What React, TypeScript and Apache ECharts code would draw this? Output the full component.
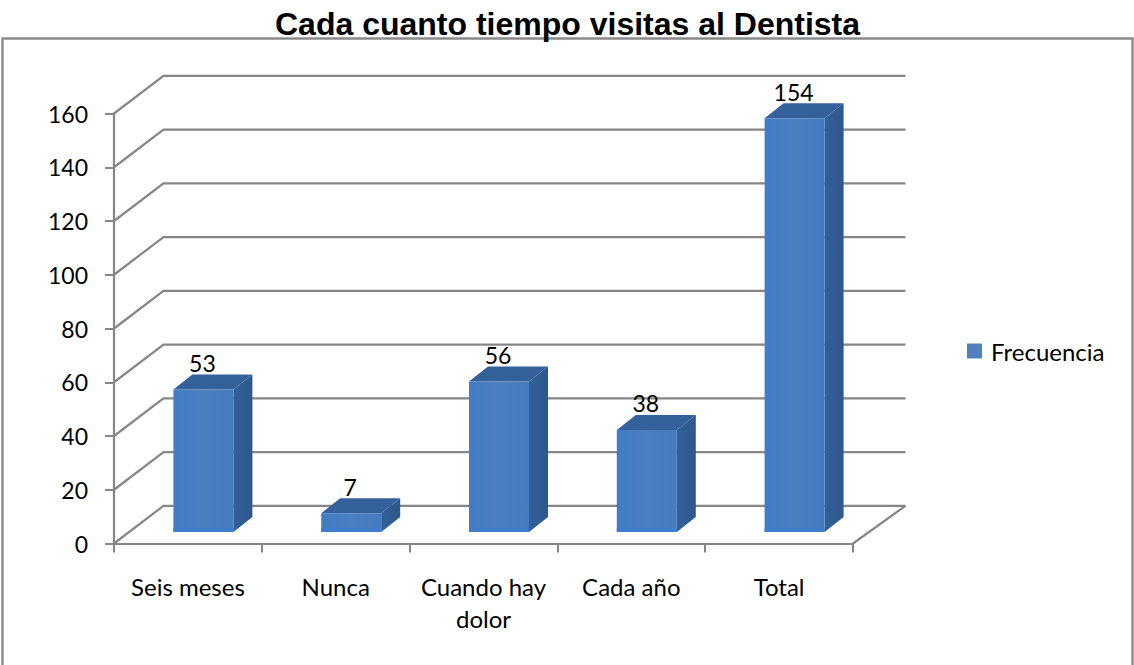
import React, { useEffect, useRef } from "react";
import * as echarts from "echarts";

const titleText = "Cada cuanto tiempo visitas al Dentista";
const categories = ["Seis meses", "Nunca", "Cuando hay\ndolor", "Cada año", "Total"];
const seriesName = "Frecuencia";
const values = [53, 7, 56, 38, 154];
const yTicks = [0, 20, 40, 60, 80, 100, 120, 140, 160];

const FONT = "Lato";
const GRID_COLOR = "#868686";

// Pseudo-3D projection offsets
const WALL_DX = 49.5;
const WALL_DY = 37.7;
const WALL_RIGHT_DX = 52.5;
const BAR_DX = 15.5;
const BAR_DY = 11.5;
const BAR_W = 60;
const BAR_DEPTH_X = 19;
const BAR_DEPTH_Y = 15;

function renderWall(params: any, api: any) {
  const v = api.value(1);
  const cs = params.coordSys;
  const y = api.coord([0, v])[1];
  const left = cs.x;
  const right = cs.x + cs.width;
  const style = { stroke: GRID_COLOR, lineWidth: 2.2, fill: "none" };
  const children: any[] = [
    {
      type: "polyline",
      shape: {
        points: [
          [left, y],
          [left + WALL_DX, y - WALL_DY],
          [right + WALL_RIGHT_DX, y - WALL_DY],
        ],
      },
      style,
    },
  ];
  if (v === 0) {
    children.push({
      type: "line",
      shape: { x1: right, y1: y, x2: right + WALL_RIGHT_DX, y2: y - WALL_DY },
      style,
    });
  }
  return { type: "group", children };
}

function renderBar(_params: any, api: any) {
  const idx = api.value(0);
  const v = api.value(1);
  const top = api.coord([idx, v]);
  const base = api.coord([idx, 0]);
  const x0 = top[0] + BAR_DX - BAR_W / 2;
  const x1 = x0 + BAR_W;
  const yt = top[1] - BAR_DY;
  const yb = base[1] - BAR_DY;
  const front = new echarts.graphic.LinearGradient(0, 0, 1, 0, [
    { offset: 0, color: "#437cc2" },
    { offset: 0.5, color: "#4a80c2" },
    { offset: 1, color: "#447cbf" },
  ]);
  const side = new echarts.graphic.LinearGradient(0, 0, 1, 0, [
    { offset: 0, color: "#31609a" },
    { offset: 1, color: "#2e588c" },
  ]);
  return {
    type: "group",
    children: [
      {
        type: "polygon",
        shape: {
          points: [
            [x1, yt],
            [x1 + BAR_DEPTH_X, yt - BAR_DEPTH_Y],
            [x1 + BAR_DEPTH_X, yb - BAR_DEPTH_Y],
            [x1, yb],
          ],
        },
        style: { fill: side },
      },
      {
        type: "polygon",
        shape: {
          points: [
            [x0, yt],
            [x0 + BAR_DEPTH_X, yt - BAR_DEPTH_Y],
            [x1 + BAR_DEPTH_X, yt - BAR_DEPTH_Y],
            [x1, yt],
          ],
        },
        style: { fill: "#34619b" },
      },
      {
        type: "rect",
        shape: { x: x0, y: yt, width: BAR_W, height: yb - yt },
        style: { fill: front },
      },
      {
        type: "rect",
        shape: { x: x0, y: yb - 4, width: BAR_W, height: 4 },
        style: { fill: "#3f7dcb" },
      },
      {
        type: "text",
        x: x0 + BAR_W / 2 - 1,
        y: yt - 26.5,
        style: {
          text: String(v),
          fontFamily: FONT,
          fontSize: 23,
          fill: "#000",
          align: "center",
          verticalAlign: "middle",
        },
      },
    ],
  };
}

export default function App() {
  const ref = useRef<HTMLDivElement>(null);
  useEffect(() => {
    document.body.style.margin = "0";
    const chart = echarts.init(ref.current!, null, { renderer: "svg" });
    chart.setOption({
      animation: false,
      backgroundColor: "#fff",
      title: {
        text: titleText,
        left: 562.5,
        top: 3,
        textAlign: "center",
        textStyle: { fontFamily: "Liberation Sans", fontWeight: "bold", fontSize: 32, color: "#000" },
      },
      graphic: [
        {
          type: "polyline",
          silent: true,
          shape: { points: [[2.5, 665], [2.5, 38.5], [1132.5, 38.5], [1132.5, 665]] },
          style: { stroke: "#8a8a8a", lineWidth: 2.4, fill: "none" },
        },
      ],
      legend: {
        data: [seriesName],
        left: 967,
        top: 339,
        icon: "rect",
        itemWidth: 15,
        itemHeight: 15,
        itemGap: 0,
        padding: 0,
        textStyle: { fontFamily: FONT, fontSize: 24, color: "#000", padding: [0, 0, 0, 4] },
      },
      grid: { left: 114, top: 113.5, width: 739, height: 430 },
      xAxis: {
        type: "category",
        data: categories,
        boundaryGap: true,
        axisLine: { lineStyle: { color: GRID_COLOR, width: 2.2 } },
        axisTick: { show: true, length: 9, alignWithLabel: false, lineStyle: { color: GRID_COLOR, width: 2 } },
        axisLabel: {
          interval: 0,
          fontFamily: FONT,
          fontSize: 24,
          color: "#000",
          margin: 27,
          lineHeight: 32,
          verticalAlign: "top",
        },
        splitLine: { show: false },
      },
      yAxis: {
        type: "value",
        min: 0,
        max: 160,
        interval: 20,
        axisLine: { show: true, lineStyle: { color: GRID_COLOR, width: 2.2 } },
        axisTick: { show: true, length: 9, lineStyle: { color: GRID_COLOR, width: 2 } },
        axisLabel: { fontFamily: FONT, fontSize: 23, color: "#000", margin: 26 },
        splitLine: { show: false },
      },
      series: [
        {
          type: "custom",
          name: "walls",
          silent: true,
          renderItem: renderWall,
          data: yTicks.map((t) => [0, t]),
          encode: { x: 0, y: 1 },
        },
        {
          type: "custom",
          name: seriesName,
          renderItem: renderBar,
          itemStyle: { color: "#4f81bd" },
          data: values.map((v, i) => [i, v]),
          encode: { x: 0, y: 1 },
        },
      ],
    });
    return () => chart.dispose();
  }, []);
  return <div ref={ref} style={{ width: 1134, height: 665 }} />;
}
